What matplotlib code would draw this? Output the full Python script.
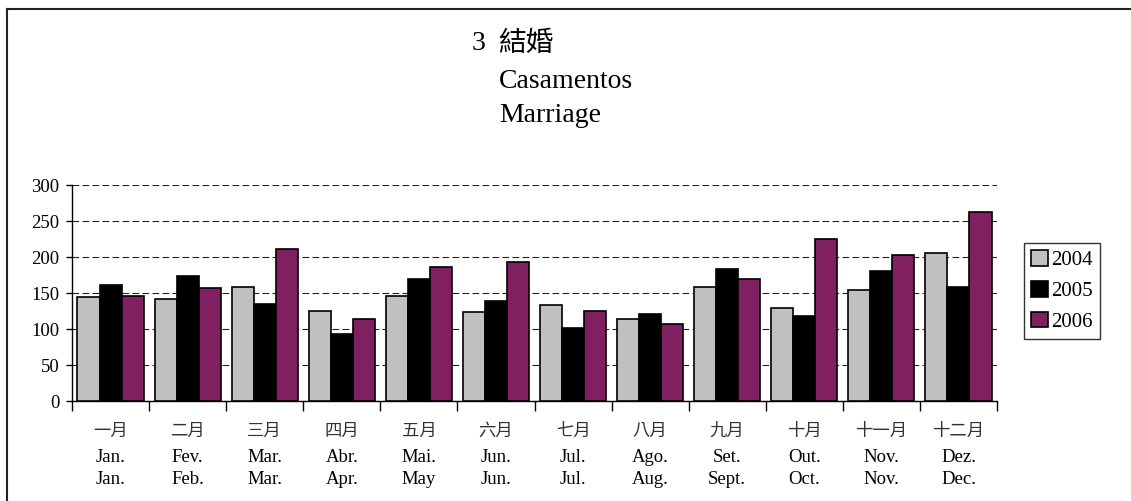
import numpy as np
import matplotlib
matplotlib.use("Agg")
import matplotlib.pyplot as plt
from matplotlib.lines import Line2D
from matplotlib.patches import Patch
import matplotlib.transforms as mtransforms

# monthly marriages
months_zh = ["一月", "二月", "三月", "四月", "五月", "六月",
             "七月", "八月", "九月", "十月", "十一月", "十二月"]
months_pt = ["Jan.", "Fev.", "Mar.", "Abr.", "Mai.", "Jun.",
             "Jul.", "Ago.", "Set.", "Out.", "Nov.", "Dez."]
months_en = ["Jan.", "Feb.", "Mar.", "Apr.", "May", "Jun.",
             "Jul.", "Aug.", "Sept.", "Oct.", "Nov.", "Dec."]
years = ["2004", "2005", "2006"]
v2004 = [144, 142, 159, 125, 146, 123, 134, 114, 158, 129, 154, 206]
v2005 = [161, 174, 135, 93, 170, 139, 102, 121, 184, 118, 180, 158]
v2006 = [146, 157, 211, 114, 186, 193, 125, 107, 169, 225, 203, 262]
yticks = [0, 50, 100, 150, 200, 250, 300]

colors = ["#C0C0C0", "#000000", "#802060"]
FONT = ["Liberation Serif", "Noto Sans CJK TC", "DejaVu Sans"]
plt.rcParams["font.family"] = FONT

fig = plt.figure(figsize=(11.31, 5.01), dpi=100)
W, H = 1131, 501
ax = fig.add_axes([72 / W, 1 - 401 / H, (997 - 72) / W, (401 - 185) / H])

x = np.arange(len(months_en))
width = 0.286
series = [v2004, v2005, v2006]
for i, (vals, c) in enumerate(zip(series, colors)):
    ax.bar(x + (i - 1) * width, vals, width, color=c, edgecolor="black",
           linewidth=1.2, zorder=3, label=years[i])

ax.set_xlim(-0.5, len(months_en) - 0.5)
ax.set_ylim(0, 300)
ax.set_yticks(yticks)
ax.set_yticklabels([str(t) for t in yticks], fontsize=13.5)
ax.set_xticks(np.arange(-0.5, len(months_en)))
ax.set_xticklabels([])
ax.tick_params(axis="x", direction="out", length=7, width=1)
ax.tick_params(axis="y", direction="out", length=4, width=1, pad=5)
ax.yaxis.grid(True, color="#222222", linewidth=0.8, linestyle=(0, (6, 3)), zorder=0)
for s in ["top", "right"]:
    ax.spines[s].set_visible(False)
ax.spines["left"].set_linewidth(1)
ax.spines["bottom"].set_linewidth(1)

# month labels in three rows
trans = mtransforms.blended_transform_factory(ax.transData, fig.transFigure)
for i in range(len(months_en)):
    ax.text(x[i], 1 - 432 / H, months_zh[i], transform=trans, ha="center",
            va="center", fontsize=12.5, color="#333333")
    ax.text(x[i], 1 - 457 / H, months_pt[i], transform=trans, ha="center",
            va="center", fontsize=13.5)
    ax.text(x[i], 1 - 480 / H, months_en[i], transform=trans, ha="center",
            va="center", fontsize=13.5)

# title block
fig.text(472 / W, 1 - 44 / H, "3", fontsize=20, ha="left", va="center")
fig.text(498 / W, 1 - 44 / H, "結婚", fontsize=20, ha="left", va="center")
fig.text(499 / W, 1 - 82 / H, "Casamentos", fontsize=20, ha="left", va="center")
fig.text(499 / W, 1 - 116 / H, "Marriage", fontsize=20, ha="left", va="center")

# legend
handles = [Patch(facecolor=c, edgecolor="black", linewidth=1.2) for c in colors]
leg = fig.legend(handles, years, loc="upper left",
                 bbox_to_anchor=(1024 / W, 1 - 243 / H),
                 fontsize=15, frameon=True, fancybox=False,
                 handlelength=0.8, handleheight=0.8, handletextpad=0.15,
                 labelspacing=0.5, borderpad=0.35, borderaxespad=0)
leg.get_frame().set_edgecolor("black")
leg.get_frame().set_linewidth(1)

# outer frame lines (top and left only)
fig.add_artist(Line2D([7 / W, 1], [1 - 9 / H, 1 - 9 / H], color="#222222", linewidth=1.5))
fig.add_artist(Line2D([7 / W, 7 / W], [0, 1 - 9 / H], color="#222222", linewidth=1.5))

fig.savefig("out.png", dpi=100)
